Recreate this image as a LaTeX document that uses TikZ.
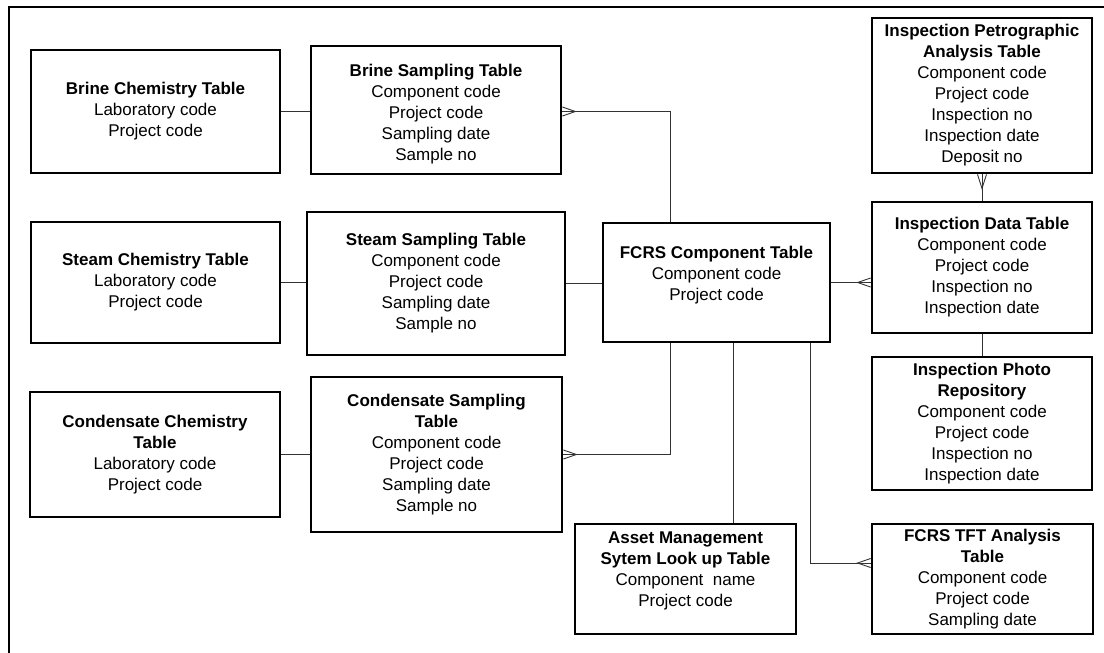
\documentclass[tikz,border=0pt]{standalone}
\usepackage{fontspec}
\setmainfont{Liberation Sans}
\usetikzlibrary{calc}
\begin{document}
\begin{tikzpicture}[x=1pt,y=-1pt,
  tbl/.style={draw=black,line width=2.8pt,fill=white,inner sep=0pt,align=center,
    font=\fontsize{17pt}{21pt}\selectfont},
  conn/.style={draw=black!80,line width=0.9pt},
  frame/.style={draw=black,line width=2pt}]
\fill[white] (0,0) rectangle (1104,653);
\useasboundingbox (0,0) rectangle (1104,653);
\draw[frame] (9,653) -- (9,7) -- (1104,7);

\coordinate (x670) at (670,0);
\coordinate (x733) at (733,0);
\coordinate (x810) at (810,0);
\coordinate (y563) at (0,563);

\node[tbl,minimum width=249pt,minimum height=123pt] (bchem) at (155.5,111.5)
  {\textbf{Brine Chemistry Table}\\Laboratory code\\Project code};
\node[tbl,minimum width=249pt,minimum height=121pt] (schem) at (155.5,282.5)
  {\textbf{Steam Chemistry Table}\\Laboratory code\\Project code};
\node[tbl,minimum width=250pt,minimum height=125pt] (cchem) at (155,454.5)
  {\textbf{Condensate Chemistry}\\\textbf{Table}\\Laboratory code\\Project code};
\node[tbl,minimum width=250pt,minimum height=128pt] (bsamp) at (436,110)
  {\strut\\[-16pt]\textbf{Brine Sampling Table}\\Component code\\Project code\\Sampling date\\Sample no};
\node[tbl,minimum width=258pt,minimum height=143pt] (ssamp) at (436,283.5)
  {\textbf{Steam Sampling Table}\\Component code\\Project code\\Sampling date\\Sample no};
\node[tbl,minimum width=251pt,minimum height=155pt] (csamp) at (436.5,454.5)
  {\textbf{Condensate Sampling}\\\textbf{Table}\\Component code\\Project code\\Sampling date\\Sample no};
\node[tbl,minimum width=227pt,minimum height=119pt] (fcrs) at (716.5,282.5)
  {\textbf{FCRS Component Table}\\Component code\\Project code\\[-8pt]\strut};
\node[tbl,minimum width=221pt,minimum height=110pt] (asset) at (685.5,579)
  {\textbf{Asset Management}\\\textbf{Sytem Look up Table}\\Component\ \ name\\Project code\\[-8pt]\strut};
\node[tbl,minimum width=220pt,minimum height=155pt] (petro) at (982,95.5)
  {\textbf{Inspection Petrographic}\\\textbf{Analysis Table}\\Component code\\Project code\\Inspection no\\Inspection date\\Deposit no};
\node[tbl,minimum width=220pt,minimum height=131pt] (idata) at (982,267.5)
  {\textbf{Inspection Data Table}\\Component code\\Project code\\Inspection no\\Inspection date};
\node[tbl,minimum width=220pt,minimum height=133pt] (photo) at (982,423.5)
  {\textbf{Inspection Photo}\\\textbf{Repository}\\Component code\\Project code\\Inspection no\\Inspection date};
\node[tbl,minimum width=221pt,minimum height=110pt] (tft) at (982.5,579)
  {\textbf{FCRS TFT Analysis}\\\textbf{Table}\\Component code\\Project code\\Sampling date};

% chemistry -- sampling
\draw[conn] (bchem.east) -- (bchem.east -| bsamp.west);
\draw[conn] (schem.east) -- (schem.east -| ssamp.west);
\draw[conn] (cchem.east) -- (cchem.east -| csamp.west);
% sampling -- component
\draw[conn] (bchem.east -| bsamp.east) -| (fcrs.north -| x670);
\draw[conn] ($(bchem.east -| bsamp.east)+(0,-4.5)$) -- ++(13,4.5) -- ++(-13,4.5);
\draw[conn] (ssamp.east) -- (ssamp.east -| fcrs.west);
\draw[conn] (csamp.east) -| (fcrs.south -| x670);
\draw[conn] ($(csamp.east)+(0,-4.5)$) -- ++(13,4.5) -- ++(-13,4.5);
% component -- asset / tft
\draw[conn] (fcrs.south -| x733) -- (asset.north -| x733);
\draw[conn] (fcrs.south -| x810) |- (tft.west |- y563);
\draw[conn] ($(tft.west |- y563)+(0,-4.5)$) -- ++(-13,4.5) -- ++(13,4.5);
% component -- inspection data
\draw[conn] (fcrs.east) -- (fcrs.east -| idata.west);
\draw[conn] ($(fcrs.east -| idata.west)+(0,-4.5)$) -- ++(-13,4.5) -- ++(13,4.5);
% inspection column
\draw[conn] (petro.south) -- (idata.north);
\draw[conn] ($(petro.south)+(-4.5,0)$) -- ++(4.5,14) -- ++(4.5,-14);
\draw[conn] (idata.south) -- (photo.north);
\end{tikzpicture}
\end{document}
